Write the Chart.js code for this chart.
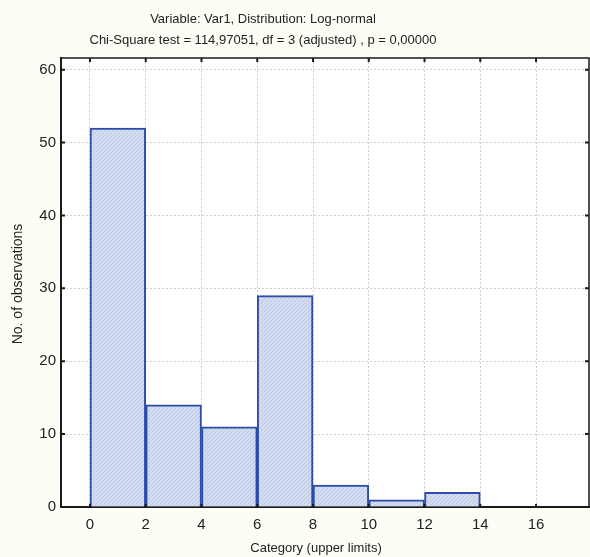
<!DOCTYPE html>
<html>
<head>
<meta charset="utf-8">
<script src="https://cdn.jsdelivr.net/npm/chart.js@4/dist/chart.umd.min.js"></script>
<style>
  html, body { margin: 0; padding: 0; background: #fdfdf6; }
  #wrap { width: 590px; height: 557px; }
</style>
</head>
<body>
<div id="wrap"><canvas id="myChart" width="590" height="557"></canvas></div>
<script>
// histogram bins (upper limits) and counts
const binCenters = [1, 3, 5, 7, 9, 11, 13, 15];
const counts = [52, 14, 11, 29, 3, 1, 2, 0];
const xTicks = [0, 2, 4, 6, 8, 10, 12, 14, 16];
const yTicks = [0, 10, 20, 30, 40, 50, 60];
const titleLines = [
  "Variable: Var1, Distribution: Log-normal",
  "Chi-Square test = 114,97051, df = 3 (adjusted) , p = 0,00000"
];
const xTitle = "Category (upper limits)";
const yTitle = "No. of observations";

const FONT = "'Liberation Sans', Arial, sans-serif";

// hatched fill like the original
const makePattern = () => {
  const c = document.createElement("canvas");
  c.width = 4;
  c.height = 4;
  const g = c.getContext("2d");
  g.fillStyle = "#d4dcf0";
  g.fillRect(0, 0, 4, 4);
  g.fillStyle = "#bac7e5";
  for (let i = 0; i < 4; i++) g.fillRect(i, 3 - i, 1, 1);
  return g.createPattern(c, "repeat");
};

const frame = {
  id: "frame",
  beforeDraw: (chart) => {
    const { ctx, chartArea: a } = chart;
    ctx.save();
    ctx.fillStyle = "#ffffff";
    ctx.fillRect(a.left, a.top, a.right - a.left, a.bottom - a.top);
    ctx.restore();
  },
  afterDraw: (chart) => {
    const { ctx, chartArea: a, scales } = chart;
    ctx.save();
    ctx.strokeStyle = "#1a1a1a";
    ctx.lineWidth = 1.5;
    ctx.beginPath();
    ctx.moveTo(a.left, a.top);
    ctx.lineTo(a.right, a.top);
    ctx.lineTo(a.right, a.bottom);
    ctx.stroke();
    ctx.lineWidth = 2;
    // inside tick marks
    xTicks.forEach((v) => {
      const x = scales.x.getPixelForValue(v);
      ctx.beginPath();
      ctx.moveTo(x, a.top);
      ctx.lineTo(x, a.top + 4);
      ctx.moveTo(x, a.bottom);
      ctx.lineTo(x, a.bottom - 3);
      ctx.stroke();
    });
    yTicks.forEach((v) => {
      const y = scales.y.getPixelForValue(v);
      ctx.beginPath();
      ctx.moveTo(a.left, y);
      ctx.lineTo(a.left + 4, y);
      ctx.moveTo(a.right, y);
      ctx.lineTo(a.right - 4, y);
      ctx.stroke();
    });
    // titles
    ctx.fillStyle = "#222";
    ctx.font = "13px " + FONT;
    ctx.textAlign = "center";
    ctx.textBaseline = "middle";
    ctx.fillText(titleLines[0], 263, 19);
    ctx.fillText(titleLines[1], 263, 40);
    ctx.fillText(xTitle, 316, 548);
    ctx.translate(18, 284);
    ctx.rotate(-Math.PI / 2);
    ctx.font = "14px " + FONT;
    ctx.fillText(yTitle, 0, 0);
    ctx.restore();
  }
};

const config = {
  type: "bar",
  data: {
    datasets: [
      {
        data: binCenters.map((x, i) => ({ x: x, y: counts[i] })),
        backgroundColor: makePattern(),
        borderColor: "#2c4ca8",
        borderWidth: 2,
        barPercentage: 1,
        categoryPercentage: 1
      }
    ]
  },
  options: {
    responsive: false,
    animation: false,
    layout: { padding: { top: 58, right: 1, left: 0, bottom: 0 } },
    plugins: { legend: { display: false }, tooltip: { enabled: false } },
    scales: {
      x: {
        type: "linear",
        offset: false,
        min: -1.04,
        max: 17.9,
        afterBuildTicks: (s) => { s.ticks = xTicks.map((v) => ({ value: v })); },
        afterFit: (s) => { s.height = 50; },
        grid: { color: "#cfcfcf", lineWidth: 1, drawTicks: false, offset: false },
        border: { color: "#1a1a1a", width: 2, dash: [2, 2] },
        ticks: { color: "#222", font: { family: FONT, size: 15 }, padding: 9, maxRotation: 0 }
      },
      y: {
        min: 0,
        max: 61.6,
        afterBuildTicks: (s) => { s.ticks = yTicks.map((v) => ({ value: v })); },
        afterFit: (s) => { s.width = 61; },
        grid: { color: "#cfcfcf", lineWidth: 1, drawTicks: false },
        border: { color: "#1a1a1a", width: 2, dash: [2, 2] },
        ticks: { color: "#222", font: { family: FONT, size: 15 }, padding: 5 }
      }
    }
  },
  plugins: [frame]
};

const myChart = new Chart(document.getElementById("myChart"), config);
</script>
</body>
</html>
